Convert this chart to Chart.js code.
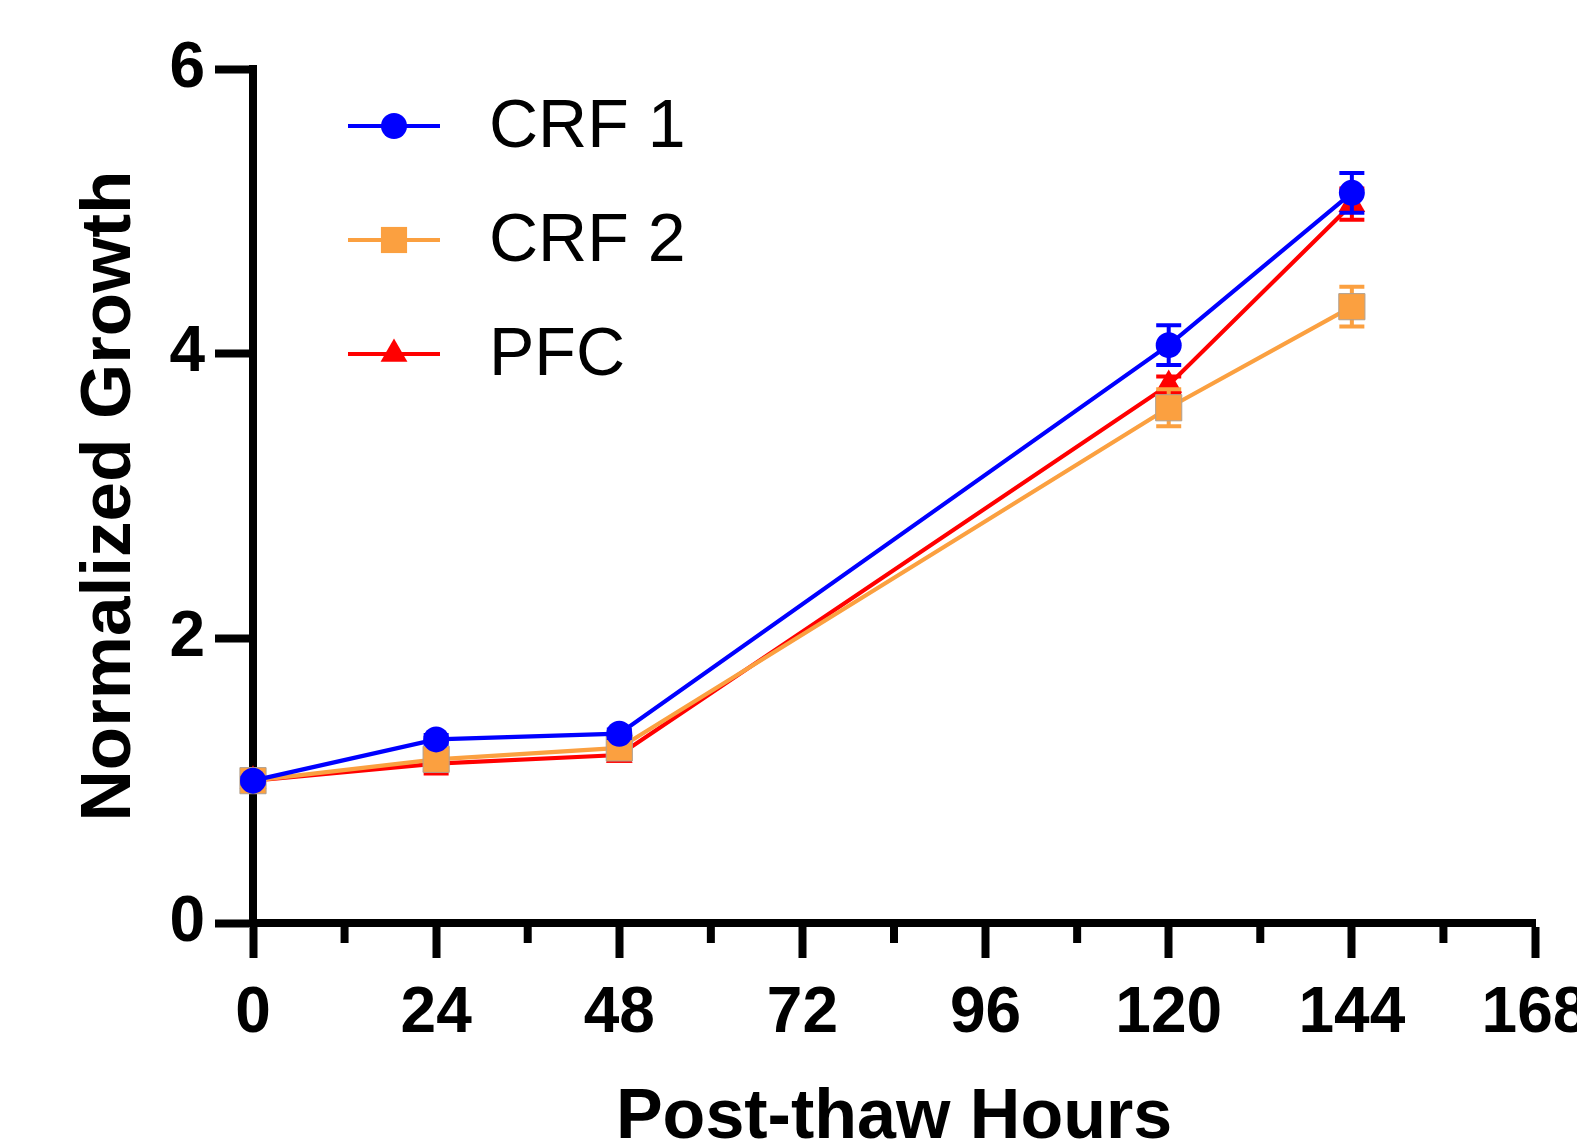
<!DOCTYPE html>
<html>
<head>
<meta charset="utf-8">
<script src="https://cdn.jsdelivr.net/npm/chart.js@4.4.1/dist/chart.umd.min.js"></script>
<style>
  html, body { margin: 0; padding: 0; background: #fff; }
  canvas { display: block; }
</style>
</head>
<body>
<canvas id="growth-chart" width="1577" height="1147"></canvas>
<script>
const hours = [0, 24, 48, 120, 144];

const crf1Values = [1.0, 1.29, 1.33, 4.06, 5.13];
const crf1Errors = [0.02, 0.03, 0.03, 0.14, 0.14];

const crf2Values = [1.0, 1.15, 1.23, 3.62, 4.33];
const crf2Errors = [0.02, 0.05, 0.04, 0.13, 0.14];

const pfcValues = [1.0, 1.12, 1.18, 3.78, 5.05];
const pfcErrors = [0.02, 0.07, 0.04, 0.06, 0.11];

const xTicks = [0, 24, 48, 72, 96, 120, 144, 168];
const xMinorTicks = [12, 36, 60, 84, 108, 132, 156];
const yTicks = [0, 2, 4, 6];

const FONT = "'Liberation Sans', Arial, Helvetica, sans-serif";

function toPoints(values) {
  return values.map((v, i) => ({ x: hours[i], y: v }));
}

function series(label, values, errors, color, pointStyle, radius, border) {
  return {
    label,
    data: toPoints(values),
    errors,
    borderColor: color,
    backgroundColor: color,
    pointBackgroundColor: color,
    pointBorderColor: border || color,
    pointBorderWidth: border ? 1 : 0,
    pointStyle,
    pointRadius: radius,
    pointHoverRadius: radius,
    borderWidth: 4.2,
    tension: 0,
    clip: false,
  };
}

// error bars go under each dataset's own line and markers
const errorBars = {
  id: "errorBars",
  beforeDatasetDraw(chart, args) {
    const ds = chart.data.datasets[args.index];
    if (!ds.errors) return;
    const { x, y } = chart.scales;
    const ctx = chart.ctx;
    ctx.save();
    ctx.strokeStyle = ds.borderColor;
    ctx.lineWidth = 4;
    ds.data.forEach((pt, i) => {
      const err = ds.errors[i];
      const px = x.getPixelForValue(pt.x);
      const top = y.getPixelForValue(pt.y + err);
      const bottom = y.getPixelForValue(pt.y - err);
      ctx.beginPath();
      ctx.moveTo(px, top);
      ctx.lineTo(px, bottom);
      ctx.moveTo(px - 12.5, top);
      ctx.lineTo(px + 12.5, top);
      ctx.moveTo(px - 12.5, bottom);
      ctx.lineTo(px + 12.5, bottom);
      ctx.stroke();
    });
    ctx.restore();
  },
};

const minorTicks = {
  id: "minorTicks",
  afterDraw(chart) {
    const { x } = chart.scales;
    const ctx = chart.ctx;
    const base = chart.chartArea.bottom;
    ctx.save();
    ctx.strokeStyle = "#000";
    ctx.lineWidth = 8;
    xMinorTicks.forEach((v) => {
      const px = x.getPixelForValue(v);
      ctx.beginPath();
      ctx.moveTo(px, base);
      ctx.lineTo(px, base + 20);
      ctx.stroke();
    });
    ctx.restore();
  },
};

function drawMarker(ctx, style, cx, cy, r) {
  ctx.beginPath();
  if (style === "circle") {
    ctx.arc(cx, cy, r, 0, Math.PI * 2);
  } else if (style === "rect") {
    const s = r * Math.SQRT1_2;
    ctx.rect(cx - s, cy - s, 2 * s, 2 * s);
  } else if (style === "triangle") {
    const w = r * Math.sin(Math.PI / 3);
    ctx.moveTo(cx, cy - r);
    ctx.lineTo(cx + w, cy + r / 2);
    ctx.lineTo(cx - w, cy + r / 2);
    ctx.closePath();
  }
  ctx.fill();
}

const lineLegend = {
  id: "lineLegend",
  afterDraw(chart) {
    const ctx = chart.ctx;
    const left = chart.chartArea.left + 95;
    const rowTop = 126;
    const rowGap = 114;
    ctx.save();
    chart.data.datasets.forEach((ds, i) => {
      const cy = rowTop + i * rowGap;
      ctx.strokeStyle = ds.borderColor;
      ctx.lineWidth = 4.2;
      ctx.beginPath();
      ctx.moveTo(left, cy);
      ctx.lineTo(left + 92, cy);
      ctx.stroke();
      ctx.fillStyle = ds.backgroundColor;
      drawMarker(ctx, ds.pointStyle, left + 46, cy, ds.pointRadius);
      ctx.fillStyle = "#000";
      ctx.font = `68px ${FONT}`;
      ctx.textBaseline = "middle";
      ctx.textAlign = "left";
      ctx.fillText(ds.label, left + 141, cy + 2);
    });
    ctx.restore();
  },
};

new Chart(document.getElementById("growth-chart"), {
  type: "line",
  data: {
    datasets: [
      series("CRF 1", crf1Values, crf1Errors, "#0000FF", "circle", 13),
      series("CRF 2", crf2Values, crf2Errors, "#FBA040", "rect", 18.5, "#B0A090"),
      series("PFC", pfcValues, pfcErrors, "#FF0000", "triangle", 15.5),
    ],
  },
  options: {
    responsive: false,
    animation: false,
    events: [],
    layout: { padding: { top: 69, right: 42, bottom: 0, left: 0 } },
    plugins: { legend: { display: false }, tooltip: { enabled: false } },
    scales: {
      x: {
        type: "linear",
        min: 0,
        max: 168,
        border: { display: true, width: 8, color: "#000" },
        grid: { drawOnChartArea: false, drawTicks: true, tickLength: 35, tickWidth: 8, tickColor: "#000" },
        ticks: {
          color: "#000",
          padding: 18,
          maxRotation: 0,
          autoSkip: false,
          font: { family: FONT, size: 64, weight: "bold" },
        },
        afterBuildTicks(scale) {
          scale.ticks = xTicks.map((v) => ({ value: v }));
        },
        afterFit(scale) {
          scale.height = 224;
          scale.paddingLeft = 0;
          scale.paddingRight = 0;
        },
        title: {
          display: true,
          text: "Post-thaw Hours",
          color: "#000",
          font: { family: FONT, size: 70, weight: "bold", lineHeight: 1 },
          padding: { top: 0, bottom: -7 },
        },
      },
      y: {
        min: 0,
        max: 6,
        border: { display: true, width: 8, color: "#000" },
        grid: { drawOnChartArea: false, drawTicks: true, tickLength: 38, tickWidth: 8, tickColor: "#000" },
        ticks: {
          color: "#000",
          padding: 10,
          font: { family: FONT, size: 64, weight: "bold" },
        },
        afterBuildTicks(scale) {
          scale.ticks = yTicks.map((v) => ({ value: v }));
        },
        afterFit(scale) {
          scale.width = 253;
          scale.paddingTop = 0;
          scale.paddingBottom = 0;
        },
        title: {
          display: true,
          text: "Normalized Growth",
          color: "#000",
          font: { family: FONT, size: 71, weight: "bold", lineHeight: 1 },
          padding: { top: 75, bottom: 0 },
        },
      },
    },
  },
  plugins: [errorBars, minorTicks, lineLegend],
});
</script>
</body>
</html>
